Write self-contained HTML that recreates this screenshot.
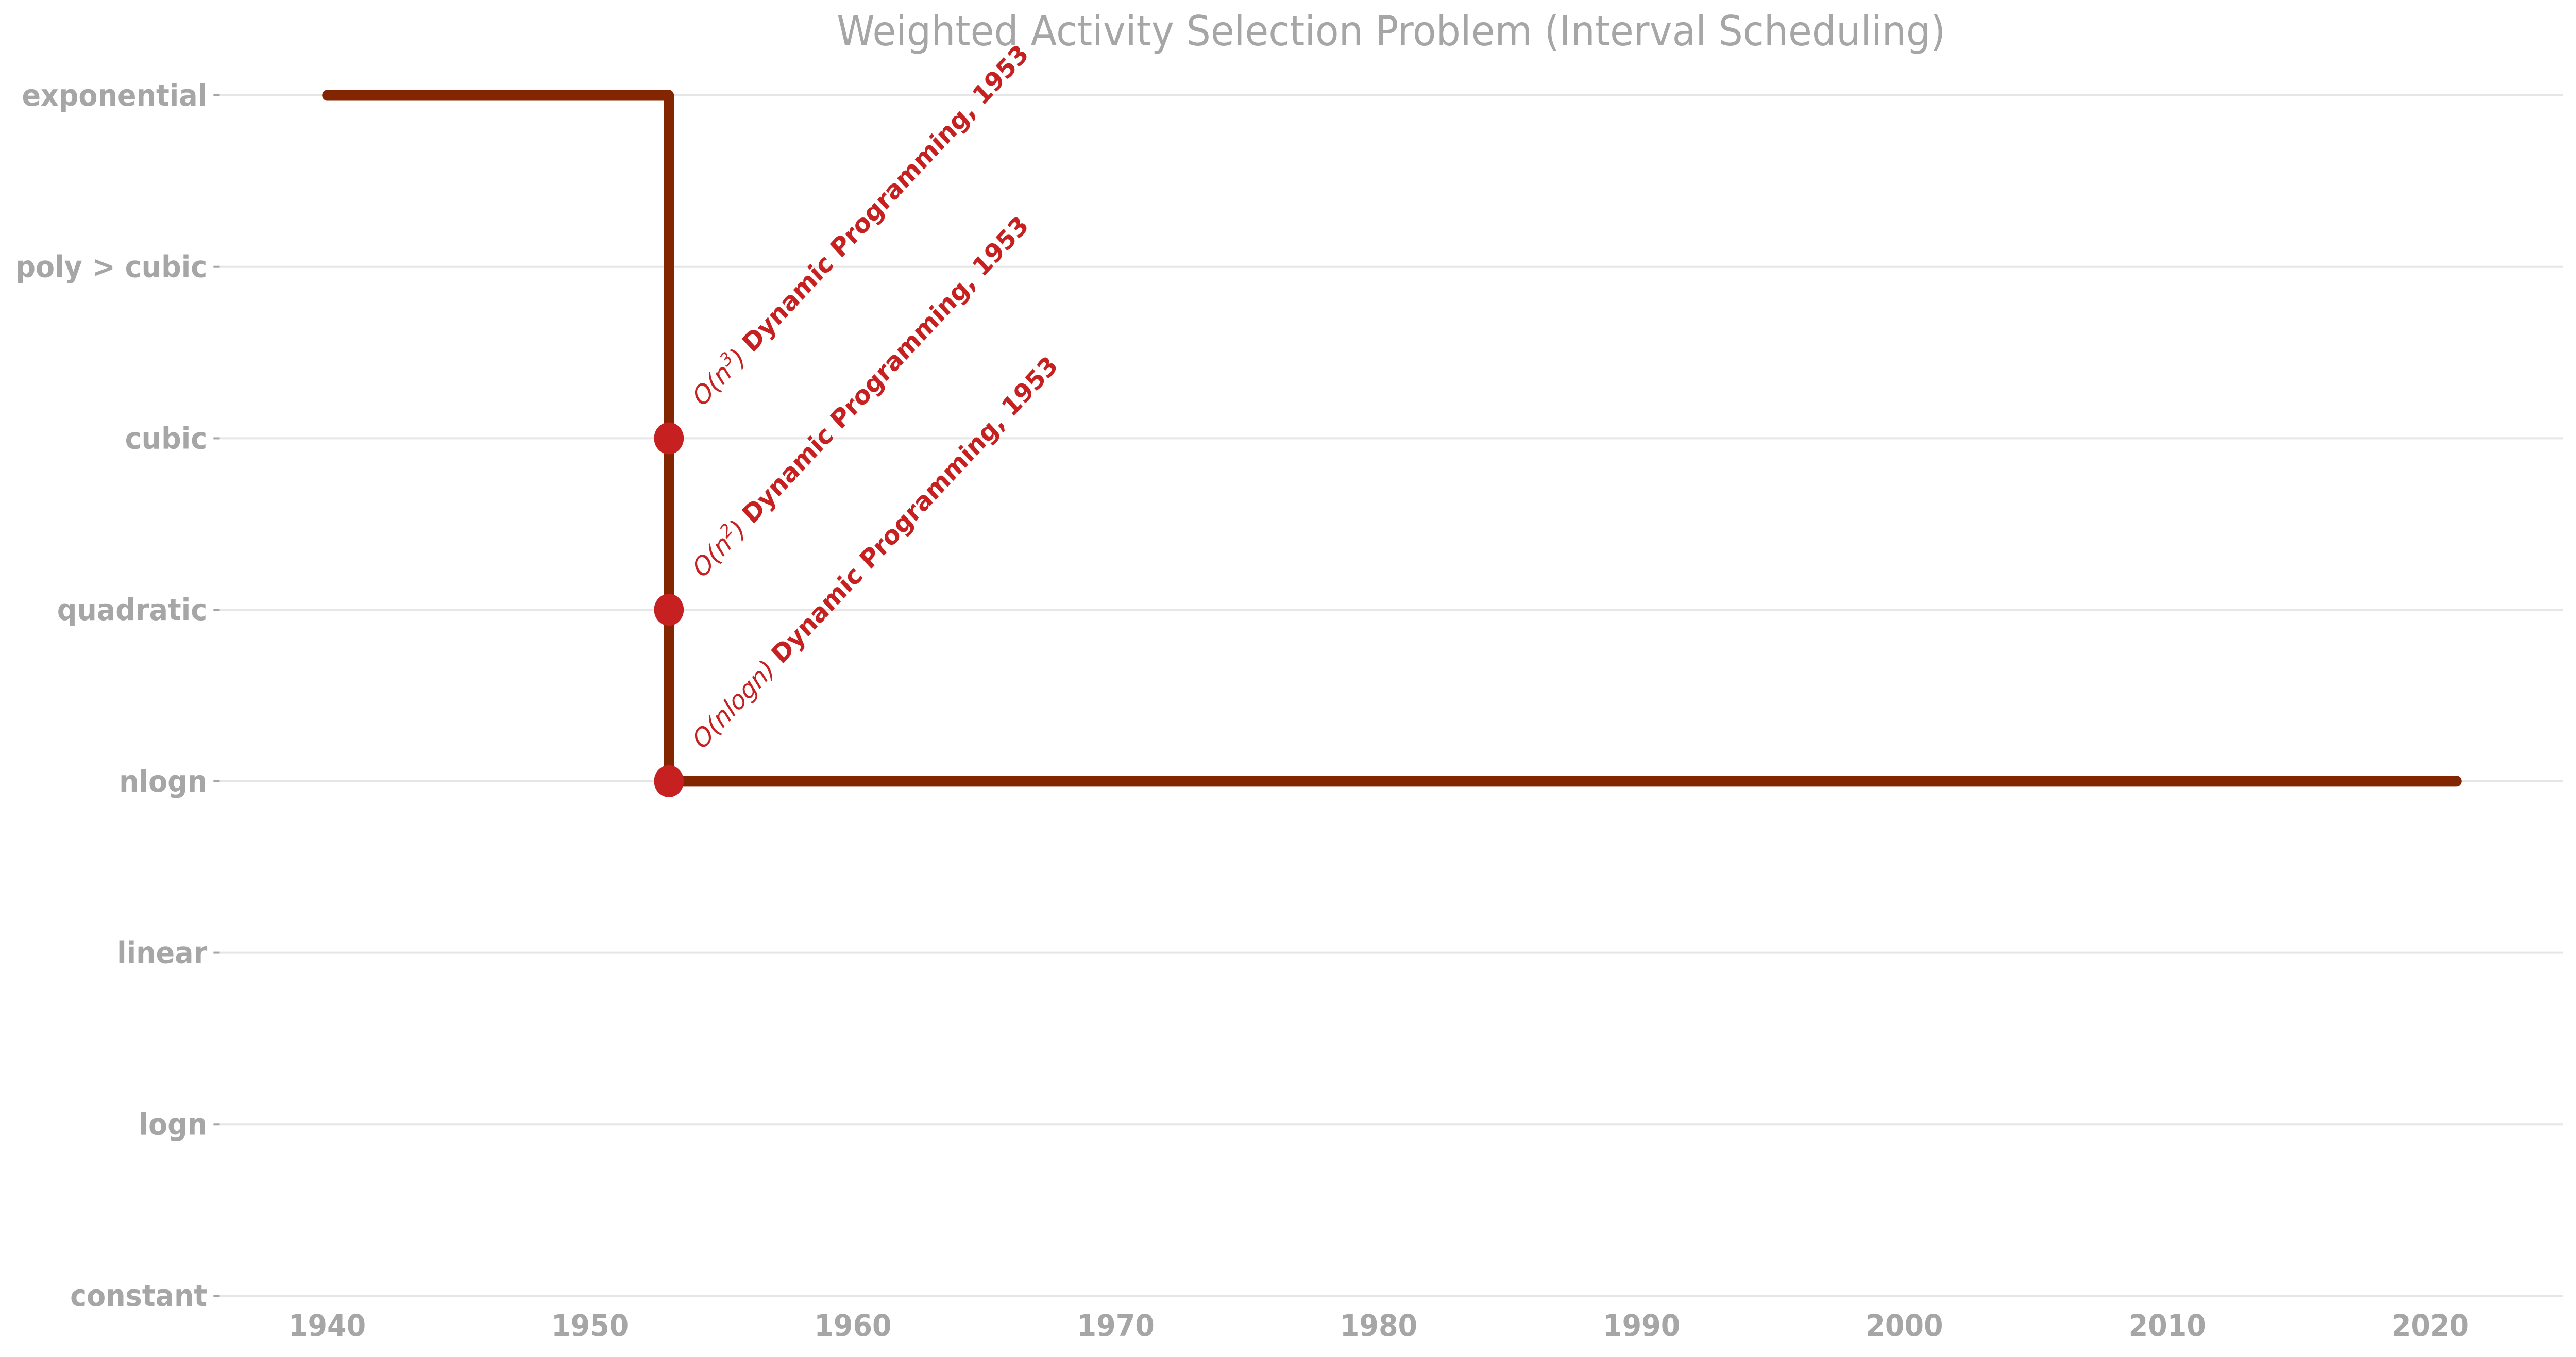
<!DOCTYPE html>
<html><head><meta charset="utf-8"><style>
html,body{margin:0;padding:0;background:#fff;width:100%;height:100%;overflow:hidden}
svg{display:block;position:absolute;left:0;top:0;width:100vw;height:100vh}
text{font-family:"DejaVu Sans","Liberation Sans",sans-serif}
</style></head><body>
<svg id="chart" viewBox="0 0 5370 2633" preserveAspectRatio="none" xmlns="http://www.w3.org/2000/svg" overflow="hidden">
<text x="2900" y="88" text-anchor="middle" font-size="80" fill="#a6a6a6">Weighted Activity Selection Problem (Interval Scheduling)</text>
<g id="grid"></g>
<g id="yaxis"></g>
<g id="xaxis"></g>
<g id="series"></g>
</svg>
<script>
const yCategories = ["constant","logn","linear","nlogn","quadratic","cubic","poly > cubic","exponential"];
const xTicks = [1940,1950,1960,1970,1980,1990,2000,2010,2020];
const stepYears = [1940,1953,1953,2021];
const stepLevels = ["exponential","exponential","nlogn","nlogn"];
const pointYears = [1953,1953,1953];
const pointLevels = ["cubic","quadratic","nlogn"];
const pointComplexity = ["n3","n2","nlogn"];
const pointLabels = ["Dynamic Programming, 1953","Dynamic Programming, 1953","Dynamic Programming, 1953"];

const NS="http://www.w3.org/2000/svg";
const X0=455,X1=5343,Y0=2514,Y1=185;
function xs(v){return 682+(v-1940)*(5066-682)/80;}
function ys(c){const i=yCategories.indexOf(c);return Y0-i*(Y0-Y1)/(yCategories.length-1);}
function mk(tag,attrs,parent){const e=document.createElementNS(NS,tag);for(const k in attrs)e.setAttribute(k,attrs[k]);parent.appendChild(e);return e;}
const grid=document.getElementById('grid'),yaxis=document.getElementById('yaxis'),xaxis=document.getElementById('xaxis'),series=document.getElementById('series');

yCategories.forEach(c=>{
  const y=ys(c);
  const g=mk('line',{x1:X0,x2:X1,y1:y,y2:y,stroke:'#e6e6e6','stroke-width':4},grid);
  
  
  const t=mk('line',{x1:445,x2:458,y1:y,y2:y,stroke:'#a6a6a6','stroke-width':4},yaxis);
  
  
  const l=mk('text',{x:432,y:y+20,'text-anchor':'end','font-size':58,'font-weight':'bold',fill:'#a6a6a6'},yaxis);
  
  
  l.textContent=c;
});
xTicks.forEach(v=>{
  const l=mk('text',{x:xs(v),y:2592,'text-anchor':'middle','font-size':58,'font-weight':'bold',fill:'#a6a6a6'},xaxis);
  
  
  l.textContent=v;
});
const pts=stepYears.map((v,i)=>xs(v)+','+ys(stepLevels[i])).join(' ');
const pl=mk('polyline',{points:pts,fill:'none',stroke:'#822500','stroke-width':21,'stroke-linecap':'round','stroke-linejoin':'round'},series);


pointYears.forEach((v,i)=>{
  const cx=xs(v),cy=ys(pointLevels[i]);
  const c=mk('circle',{cx:cx,cy:cy,r:31,fill:'#c62020'},series);
  
  
  const tx=cx+70,ty=cy-60;
  const t=mk('text',{x:tx,y:ty,'font-size':50,fill:'#c62020',transform:'rotate(-45 '+tx+' '+ty+')'},series);
  
  
  const it=mk('tspan',{'font-style':'italic'},t);
  if(pointComplexity[i]==='nlogn'){it.textContent='O(nlogn) ';}
  else{
    it.textContent='O(n';
    const sup=mk('tspan',{'font-style':'italic','baseline-shift':'super','font-size':34},t);
    sup.textContent=pointComplexity[i].slice(1);
    const cl=mk('tspan',{'font-style':'italic'},t);
    cl.textContent=') ';
  }
  const b=mk('tspan',{'font-weight':'bold'},t);
  b.textContent=pointLabels[i];
});
</script>
</body></html>
